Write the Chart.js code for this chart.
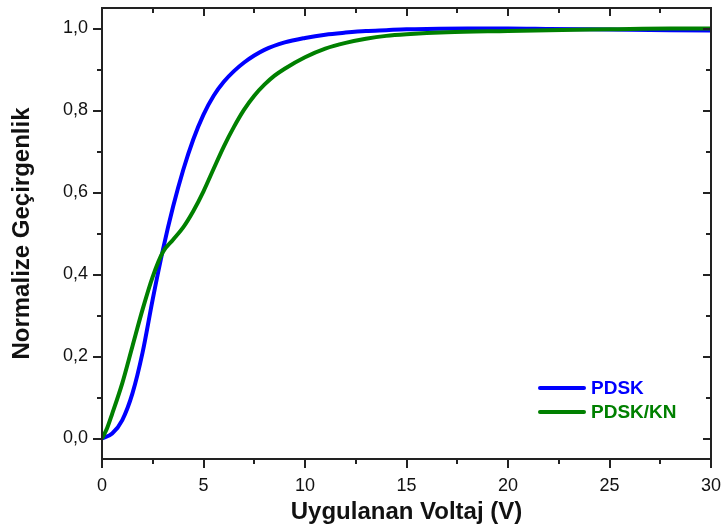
<!DOCTYPE html>
<html>
<head>
<meta charset="utf-8">
<script src="https://cdn.jsdelivr.net/npm/chart.js@4.4.1/dist/chart.umd.min.js"></script>
<style>
html,body{margin:0;padding:0;background:#fff;}
#wrap{width:723px;height:529px;position:relative;}
</style>
</head>
<body>
<div id="wrap"><canvas id="c" width="723" height="529"></canvas></div>
<script>
// ---- data ----
const seriesNames = ['PDSK', 'PDSK/KN'];
const pdskX = [0, 0.5, 1.0, 1.5, 2.0, 2.5, 3.0, 3.5, 4.0, 4.5, 5.0, 5.5, 6.0, 6.5, 7.0, 7.5, 8.0, 9, 10, 11, 12, 13, 14, 15, 16, 18, 20, 22, 24, 26, 28, 30];
const pdskY = [0, 0.012, 0.045, 0.11, 0.21, 0.34, 0.46, 0.565, 0.655, 0.73, 0.79, 0.836, 0.87, 0.896, 0.917, 0.934, 0.948, 0.966, 0.977, 0.985, 0.99, 0.994, 0.996, 0.998, 0.999, 1.0, 1.0, 0.999, 0.998, 0.997, 0.996, 0.995];
const knX = [0, 0.25, 0.5, 1.0, 1.5, 2.0, 2.5, 3.0, 3.5, 4.0, 4.5, 5.0, 5.5, 6.0, 6.5, 7.0, 7.5, 8.0, 8.5, 9.0, 10, 11, 12, 13, 14, 15, 17, 20, 22, 25, 28, 30];
const knY = [0, 0.025, 0.06, 0.135, 0.225, 0.315, 0.395, 0.455, 0.485, 0.515, 0.555, 0.603, 0.658, 0.712, 0.76, 0.802, 0.836, 0.863, 0.885, 0.902, 0.93, 0.951, 0.965, 0.975, 0.982, 0.986, 0.991, 0.994, 0.996, 0.998, 1.0, 1.0];
const xMajorTicks = [0, 5, 10, 15, 20, 25, 30];
const xMinorTicks = [2.5, 7.5, 12.5, 17.5, 22.5, 27.5];
const yMajorTicks = [0, 0.2, 0.4, 0.6, 0.8, 1.0];
const yMinorTicks = [0.1, 0.3, 0.5, 0.7, 0.9];
const xTitle = 'Uygulanan Voltaj (V)';
const yTitle = 'Normalize Geçirgenlik';

const BLUE = '#0000ff';
const GREEN = '#008000';
const AXIS = '#111111';
const FONT = "'Liberation Sans', Arial, sans-serif";

const toPts = (xs, ys) => xs.map((x, i) => ({x: x, y: ys[i]}));

const frameTicks = {
  id: 'frameTicks',
  afterDatasetsDraw(chart) {
    const ctx = chart.ctx;
    const a = chart.chartArea;
    const xs = chart.scales.x, ys = chart.scales.y;
    ctx.save();
    ctx.strokeStyle = '#222222';
    ctx.lineWidth = 2;
    ctx.strokeRect(a.left, a.top, a.right - a.left, a.bottom - a.top);
    const line = (x1, y1, x2, y2) => { ctx.beginPath(); ctx.moveTo(x1, y1); ctx.lineTo(x2, y2); ctx.stroke(); };
    xMajorTicks.forEach(v => {
      const px = Math.round(xs.getPixelForValue(v));
      line(px, a.bottom, px, a.bottom + 9);
      line(px, a.top, px, a.top + 8);
    });
    xMinorTicks.forEach(v => {
      const px = Math.round(xs.getPixelForValue(v));
      line(px, a.bottom, px, a.bottom + 5);
      line(px, a.top, px, a.top + 5);
    });
    yMajorTicks.forEach(v => {
      const py = Math.round(ys.getPixelForValue(v));
      line(a.left - 9, py, a.left, py);
      line(a.right - 8, py, a.right, py);
    });
    yMinorTicks.forEach(v => {
      const py = Math.round(ys.getPixelForValue(v));
      line(a.left - 5, py, a.left, py);
      line(a.right - 5, py, a.right, py);
    });
    // legend
    const ds = chart.data.datasets;
    const lx = a.right - 171, ly0 = a.bottom - 71, step = 24;
    ctx.font = "bold 19px " + FONT;
    ctx.textBaseline = 'middle';
    ctx.textAlign = 'left';
    ds.forEach((d, i) => {
      const y = ly0 + i * step;
      ctx.strokeStyle = d.borderColor;
      ctx.lineWidth = 4;
      ctx.lineCap = 'round';
      line(lx, y, lx + 44, y);
      ctx.fillStyle = d.borderColor;
      ctx.fillText(d.label, lx + 51, y + 1);
    });
    ctx.restore();
  }
};

new Chart(document.getElementById('c'), {
  type: 'line',
  data: {
    datasets: [
      {label: seriesNames[0], data: toPts(pdskX, pdskY), borderColor: BLUE, borderWidth: 4, pointRadius: 0, cubicInterpolationMode: 'monotone', fill: false, order: 1},
      {label: seriesNames[1], data: toPts(knX, knY), borderColor: GREEN, borderWidth: 4, pointRadius: 0, cubicInterpolationMode: 'monotone', fill: false, order: 0}
    ]
  },
  options: {
    responsive: false,
    animation: false,
    layout: {padding: {top: 8, right: 12, left: 0, bottom: 0}},
    plugins: {legend: {display: false}, tooltip: {enabled: false}},
    scales: {
      x: {
        type: 'linear', min: 0, max: 30,
        afterBuildTicks: s => { s.ticks = xMajorTicks.map(v => ({value: v})); },
        afterFit: s => { s.height = 70; s.paddingLeft = 0; s.paddingRight = 0; },
        grid: {display: false, drawTicks: false},
        border: {display: false},
        ticks: {color: AXIS, font: {family: FONT, size: 18}, padding: 16, maxRotation: 0,
                callback: v => String(v)},
        title: {display: true, text: xTitle, color: AXIS, font: {family: FONT, size: 24, weight: 'bold'}, padding: {top: 0, bottom: 2}}
      },
      y: {
        type: 'linear', min: -0.05, max: 1.05,
        afterBuildTicks: s => { s.ticks = yMajorTicks.map(v => ({value: v})); },
        afterFit: s => { s.width = 102; s.paddingTop = 0; s.paddingBottom = 0; },
        grid: {display: false, drawTicks: false},
        border: {display: false},
        ticks: {color: AXIS, font: {family: FONT, size: 18}, padding: 14,
                callback: v => v.toFixed(1).replace('.', ',')},
        title: {display: true, text: yTitle, color: AXIS, font: {family: FONT, size: 24, weight: 'bold'}, padding: {top: 8, bottom: 0}}
      }
    }
  },
  plugins: [frameTicks]
});
</script>
</body>
</html>
